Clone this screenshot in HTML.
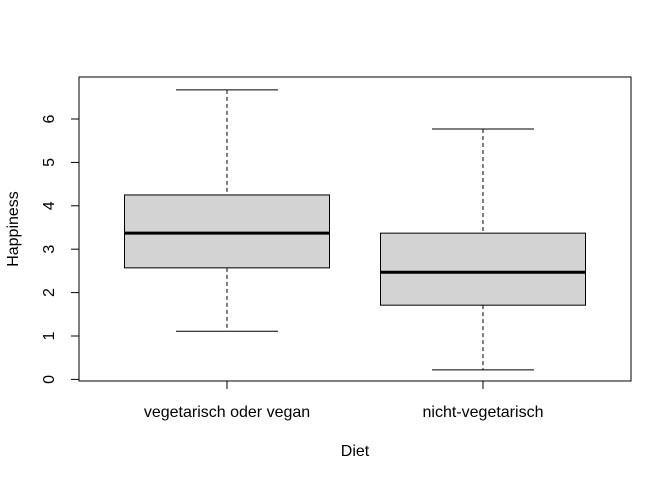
<!DOCTYPE html>
<html><head><meta charset="utf-8"><style>
body{margin:0;background:#fff}
text{font-family:"Liberation Sans",sans-serif;font-size:16px;fill:#000}
</style></head><body>
<svg id="chart" width="672" height="480" xmlns="http://www.w3.org/2000/svg">
<rect x="79" y="77" width="552" height="304" fill="none" stroke="#000" stroke-width="1"/>
<g id="marks"></g>
<text x="355" y="456" text-anchor="middle">Diet</text>
<text transform="translate(18,229) rotate(-90)" text-anchor="middle">Happiness</text>
</svg>
<script>
const categories=["vegetarisch oder vegan","nicht-vegetarisch"];
const whiskerLow=[1.11,0.22];
const q1=[2.57,1.71];
const medians=[3.37,2.47];
const q3=[4.25,3.37];
const whiskerHigh=[6.67,5.77];
const yTicks=[0,1,2,3,4,5,6];
const NS="http://www.w3.org/2000/svg";
const g=document.getElementById('marks');
function y(v){return 379.4-v*43.4;}
function x(i){return 227+i*256;}
function el(t,a){const e=document.createElementNS(NS,t);for(const k in a)e.setAttribute(k,a[k]);g.appendChild(e);return e;}
yTicks.forEach(t=>{
  const l=el('line',{x1:71,x2:79,y1:y(t),y2:y(t),stroke:'#000'});
  
  
  const tx=el('text',{transform:`translate(54,${y(t)}) rotate(-90)`,'text-anchor':'middle'});
  tx.textContent=t;
  
  
});
categories.forEach((c,i)=>{
  const cx=x(i),hw=102.5,cw=51;
  const w1=el('line',{x1:cx,x2:cx,y1:y(whiskerHigh[i]),y2:y(q3[i]),stroke:'#000','stroke-dasharray':'4,3'});
  
  
  const w2=el('line',{x1:cx,x2:cx,y1:y(q1[i]),y2:y(whiskerLow[i]),stroke:'#000','stroke-dasharray':'4,3'});
  
  
  const c1=el('line',{x1:cx-cw,x2:cx+cw,y1:y(whiskerHigh[i]),y2:y(whiskerHigh[i]),stroke:'#000'});
  
  
  const c2=el('line',{x1:cx-cw,x2:cx+cw,y1:y(whiskerLow[i]),y2:y(whiskerLow[i]),stroke:'#000'});
  
  
  const b=el('rect',{x:cx-hw,y:y(q3[i]),width:2*hw,height:y(q1[i])-y(q3[i]),fill:'#d3d3d3',stroke:'#000'});
  
  
  const m=el('line',{x1:cx-hw,x2:cx+hw,y1:y(medians[i]),y2:y(medians[i]),stroke:'#000','stroke-width':3});
  
  
  const t=el('line',{x1:cx,x2:cx,y1:381,y2:389,stroke:'#000'});
  
  
  const lb=el('text',{x:cx,y:417,'text-anchor':'middle'});
  lb.textContent=c;
  
  
});
const ax=el('line',{x1:x(0),x2:x(1),y1:381,y2:381,stroke:'#000'});


</script>
</body></html>
